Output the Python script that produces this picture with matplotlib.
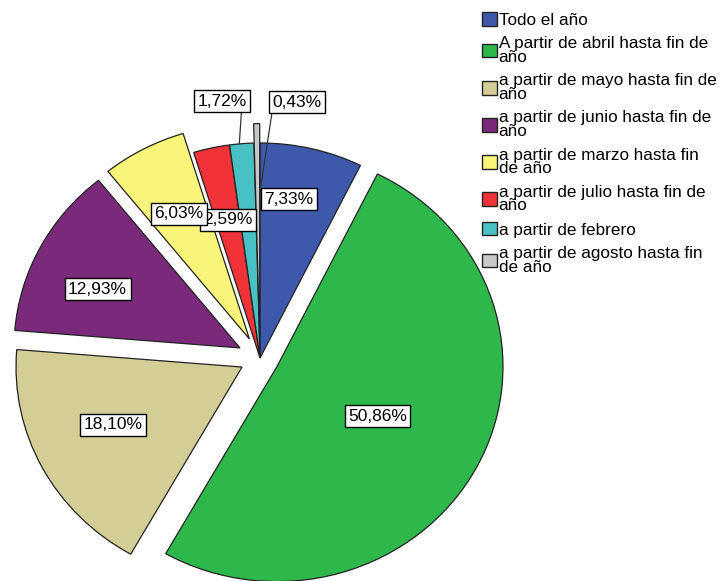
import numpy as np
import matplotlib
matplotlib.use("Agg")
import matplotlib.pyplot as plt
from matplotlib.patches import Patch

plt.rcParams['font.family'] = ['Liberation Sans', 'DejaVu Sans']

categories = ["Todo el año",
              "A partir de abril hasta fin de\naño",
              "a partir de mayo hasta fin de\naño",
              "a partir de junio hasta fin de\naño",
              "a partir de marzo hasta fin\nde año",
              "a partir de julio hasta fin de\naño",
              "a partir de febrero",
              "a partir de agosto hasta fin\nde año"]
values = [7.33, 50.86, 18.10, 12.93, 6.03, 2.59, 1.72, 0.43]
labels = ["7,33%", "50,86%", "18,10%", "12,93%", "6,03%", "2,59%", "1,72%", "0,43%"]
colors = ["#3E58AC", "#2EB84B", "#D4CE96", "#7B2A7B",
          "#F9F57A", "#EF3339", "#48C1C4", "#C8C8C8"]
explode = [0, 0.085, 0.09, 0.1, 0.1, 0, 0, 0.09]

W, H = 727, 581
cx, cy = 260, 358
Rx, Ry = 226, 215   # the original is slightly stretched horizontally
k = Ry / Rx

fig = plt.figure(figsize=(W / 100, H / 100), dpi=100)
ax = fig.add_axes([0, 0, 1, 1])

wedges, _ = ax.pie(values, colors=colors, explode=explode, startangle=90,
                   counterclock=False, radius=1,
                   wedgeprops=dict(edgecolor='#222222', linewidth=0.9))
ax.set_aspect('auto')
ax.set_xlim(-cx / Rx, (W - cx) / Rx)
ax.set_ylim(-(H - cy) / Ry, cy / Ry)
ax.axis('off')

# mid angles (clockwise from 12 o'clock)
cum = np.cumsum([0] + values)
mids = (cum[:-1] + cum[1:]) / 2 / 100 * 360

fs = 12.5
box = dict(boxstyle='square,pad=0.2', fc='white', ec='black', lw=1)
label_r = [0.75, 0.61, 0.75, 0.82, 0.77, 0.66]
label_da = [-3, -1.5, 3.5, -5, -1.5, -0.5]
zs = [5, 5, 5, 5, 7, 6]
for i in range(6):
    a = np.radians(mids[i] + label_da[i])
    ax.text(k * label_r[i] * np.sin(a), label_r[i] * np.cos(a), labels[i],
            ha='center', va='center', fontsize=fs, bbox=box, zorder=zs[i])

# small slices with leader lines
a6 = np.radians(mids[6])
ax.annotate(labels[6], xy=(np.sin(a6) * 1.0 - 0.01, np.cos(a6) * 1.0),
            xytext=(-0.177 * k, 1.195), ha='center', va='center', fontsize=fs,
            bbox=box, zorder=8,
            arrowprops=dict(arrowstyle='-', color='#333333', lw=0.9,
                            relpos=(0.9, 0), shrinkA=0, shrinkB=0))
a7 = np.radians(mids[7])
ax.annotate(labels[7], xy=(np.sin(a7) * 0.78 + 0.012, np.cos(a7) * 0.78),
            xytext=(0.172 * k, 1.19), ha='center', va='center', fontsize=fs,
            bbox=box, zorder=8,
            arrowprops=dict(arrowstyle='-', color='#333333', lw=0.9,
                            relpos=(0.0, 0), shrinkA=0, shrinkB=0))

handles = [Patch(facecolor=c, edgecolor='#222222', linewidth=1) for c in colors]
leg = fig.legend(handles, categories, loc='upper left',
                 bbox_to_anchor=(482 / W, 1 - 12 / H), frameon=False,
                 fontsize=12.3, handlelength=0.85, handleheight=0.85,
                 handletextpad=0.12, labelspacing=0.5, borderpad=0,
                 borderaxespad=0)
for t in leg.get_texts():
    t.set_linespacing(0.88)

fig.savefig("out.png", dpi=100)
